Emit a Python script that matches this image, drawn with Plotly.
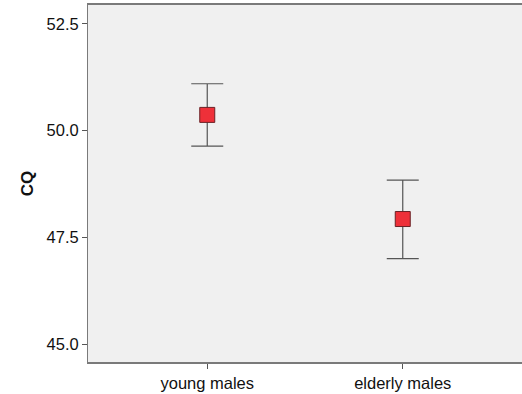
import plotly.graph_objects as go

# Group means of CQ with their 95% confidence limits
groups = ["young males", "elderly males"]
means = [50.37, 47.93]
upper = [51.10, 48.84]
lower = [49.64, 47.00]

err_plus = [u - m for u, m in zip(upper, means)]
err_minus = [m - l for m, l in zip(means, lower)]

fig = go.Figure(
    go.Scatter(
        x=[0, 1],
        y=means,
        mode="markers",
        marker=dict(symbol="square", size=15, color="#ee3039",
                    line=dict(color="#6b2226", width=1)),
        error_y=dict(type="data", symmetric=False, array=err_plus,
                     arrayminus=err_minus, color="#555555",
                     thickness=1.2, width=16),
        showlegend=False,
    )
)

fig.update_layout(
    width=522, height=394,
    margin=dict(l=88, r=0, t=5, b=32),
    paper_bgcolor="white",
    plot_bgcolor="#f0f0f0",
    font=dict(family="Liberation Sans, Arial, sans-serif", size=16.5, color="#111111"),
    xaxis=dict(
        range=[-0.61, 1.61],
        tickvals=[0, 1], ticktext=groups,
        showgrid=False, zeroline=False,
        showline=True, linecolor="#7a7a7a", linewidth=2, mirror=True,
        ticks="outside", ticklen=5, tickcolor="#555555",
    ),
    yaxis=dict(
        range=[44.58, 52.945],
        tickvals=[45.0, 47.5, 50.0, 52.5], tickformat=".1f",
        showgrid=False, zeroline=False,
        showline=True, linecolor="#7a7a7a", linewidth=1,
        ticks="outside", ticklen=5, tickcolor="#555555",
        title=dict(text="<b>CQ</b>", font=dict(size=17), standoff=8),
    ),
)

fig.write_html("out.html")
